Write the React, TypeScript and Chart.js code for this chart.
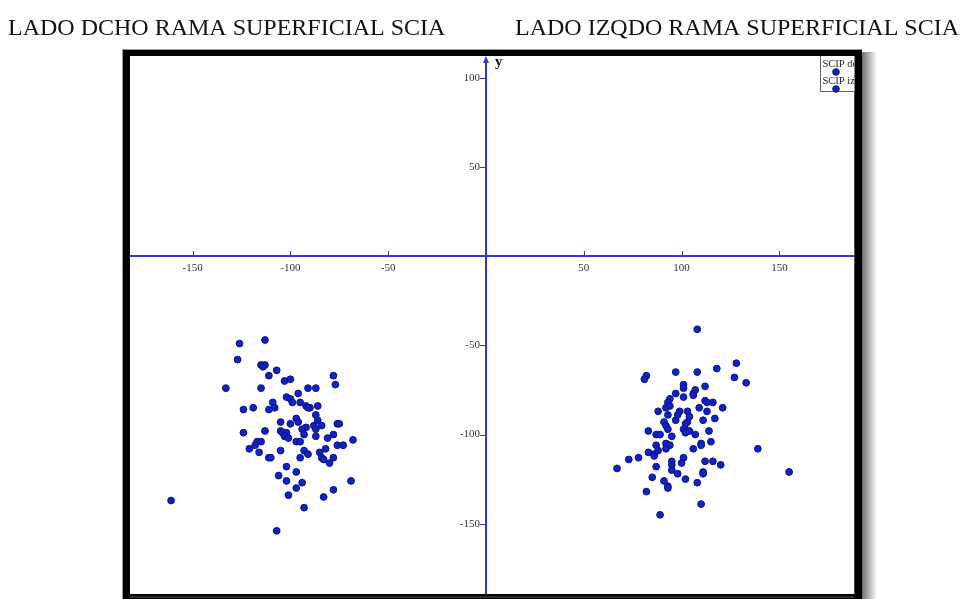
import React, { useEffect, useRef } from "react";
import { Chart, registerables } from "chart.js";

Chart.register(...registerables);

const titles = ["LADO DCHO RAMA SUPERFICIAL SCIA", "LADO IZQDO RAMA SUPERFICIAL SCIA"];
const seriesNames = ["SCIP dcho", "SCIP izqdo"];
const xTicks = [-150, -100, -50, 50, 100, 150];
const yTicks = [100, 50, -50, -100, -150];

const dchoX = [-126, -113, -127, -115, -113, -114, -107, -111, -78, -77, -103, -100, -133, -115, -91, -87, -96, -102, -100, -99, -95, -109, -108, -111, -119, -124, -92, -90, -91, -86, -87, -86, -97, -96, -105, -100, -92, -94, -88, -87, -84, -76, -75, -113, -124, -105, -104, -102, -103, -101, -93, -87, -81, -78, -68, -97, -95, -117, -115, -118, -121, -116, -105, -111, -110, -93, -91, -95, -85, -82, -76, -73, -84, -83, -78, -80, -102, -97, -106, -102, -94, -69, -97, -78, -101, -83, -93, -161, -107];
const dchoY = [-49, -47, -58, -61, -61, -62, -64, -67, -67, -72, -70, -69, -74, -74, -74, -74, -77, -79, -80, -82, -82, -82, -85, -86, -85, -86, -84, -85, -85, -84, -89, -92, -91, -93, -93, -94, -96, -97, -95, -97, -95, -94, -94, -98, -99, -98, -99, -99, -101, -102, -100, -101, -102, -100, -103, -104, -104, -104, -104, -106, -108, -110, -109, -113, -113, -109, -111, -113, -110, -108, -106, -106, -113, -114, -113, -116, -118, -121, -123, -126, -127, -126, -130, -131, -134, -135, -141, -137, -154];

const izqX = [108, 128, 118, 127, 133, 97, 108, 82, 81, 112, 101, 101, 107, 106, 97, 101, 94, 93, 106, 112, 113, 116, 121, 109, 92, 94, 88, 93, 113, 99, 103, 104, 98, 97, 117, 111, 103, 102, 91, 92, 93, 101, 103, 102, 104, 114, 107, 83, 87, 89, 95, 115, 110, 110, 87, 92, 94, 92, 106, 139, 83, 86, 86, 88, 78, 73, 67, 101, 95, 95, 95, 100, 112, 116, 120, 87, 98, 111, 111, 155, 85, 91, 102, 108, 93, 93, 82, 110, 89];
const izqY = [-41, -60, -63, -68, -71, -65, -65, -67, -69, -73, -72, -74, -75, -77, -77, -79, -80, -82, -78, -81, -82, -82, -85, -85, -85, -84, -87, -89, -87, -87, -87, -90, -89, -92, -91, -92, -93, -94, -93, -95, -97, -97, -98, -99, -98, -98, -100, -98, -100, -100, -101, -104, -105, -106, -106, -105, -106, -108, -108, -108, -110, -111, -112, -109, -113, -114, -119, -113, -115, -117, -120, -116, -115, -115, -117, -118, -122, -121, -122, -121, -124, -126, -125, -127, -129, -130, -132, -139, -145];

const toPoints = (xs: number[], ys: number[]) => xs.map((x, i) => ({ x, y: ys[i] }));

const FILL = "#1222c2";
const EDGE = "#0b148a";
const AXIS = "#3438c8";

const decorPlugin = {
  id: "decor",
  beforeDraw(chart: any) {
    const ctx = chart.ctx;
    const W = chart.width;
    const H = chart.height;
    const ca = chart.chartArea;
    ctx.save();
    ctx.fillStyle = "#ffffff";
    ctx.fillRect(0, 0, W, H);
    // titles
    ctx.fillStyle = "#111111";
    ctx.font = '24px "Liberation Serif", serif';
    ctx.textBaseline = "alphabetic";
    ctx.textAlign = "left";
    ctx.fillText(titles[0], 8, 35);
    ctx.fillText(titles[1], 515, 35);
    // shadow
    const g = ctx.createLinearGradient(861, 0, 877, 0);
    g.addColorStop(0, "rgba(0,0,0,0.6)");
    g.addColorStop(1, "rgba(0,0,0,0)");
    ctx.fillStyle = g;
    ctx.fillRect(861, 52, 16, H - 52);
    // frame
    ctx.fillStyle = "#000000";
    ctx.fillRect(123, 49, 739, H - 49);
    ctx.fillStyle = "#9a9a9a";
    ctx.fillRect(123, 49, 739, 1);
    ctx.fillRect(122, 49, 1, H - 49);
    ctx.fillStyle = "#ffffff";
    ctx.fillRect(ca.left, ca.top, ca.right - ca.left, ca.bottom - ca.top);
    ctx.fillStyle = "#555555";
    ctx.fillRect(ca.left, 596.5, ca.right - ca.left, 1);
    ctx.restore();
  },
  beforeDatasetsDraw(chart: any) {
    const ctx = chart.ctx;
    const ca = chart.chartArea;
    const xs = chart.scales.x;
    const ys = chart.scales.y;
    const X0 = Math.round(xs.getPixelForValue(0));
    const Y0 = Math.round(ys.getPixelForValue(0));
    ctx.save();
    ctx.strokeStyle = AXIS;
    ctx.lineWidth = 2;
    ctx.beginPath();
    ctx.moveTo(ca.left, Y0);
    ctx.lineTo(ca.right, Y0);
    ctx.moveTo(X0, ca.bottom);
    ctx.lineTo(X0, ca.top + 4);
    ctx.stroke();
    // arrow
    ctx.fillStyle = AXIS;
    ctx.beginPath();
    ctx.moveTo(X0, ca.top);
    ctx.lineTo(X0 - 3, ca.top + 7);
    ctx.lineTo(X0 + 3, ca.top + 7);
    ctx.closePath();
    ctx.fill();
    // ticks
    ctx.lineWidth = 1;
    ctx.beginPath();
    xTicks.forEach((v) => {
      const p = Math.round(xs.getPixelForValue(v)) + 0.5;
      ctx.moveTo(p, Y0 - 5);
      ctx.lineTo(p, Y0 + 1);
    });
    yTicks.forEach((v) => {
      const p = Math.round(ys.getPixelForValue(v)) + 0.5;
      ctx.moveTo(X0 - 6, p);
      ctx.lineTo(X0 + 1, p);
    });
    ctx.stroke();
    // labels
    ctx.fillStyle = "#333333";
    ctx.font = '11px "Liberation Serif", serif';
    ctx.textAlign = "center";
    ctx.textBaseline = "alphabetic";
    xTicks.forEach((v) => {
      ctx.fillText(String(v), xs.getPixelForValue(v), Y0 + 15);
    });
    ctx.textAlign = "right";
    ctx.textBaseline = "middle";
    yTicks.forEach((v) => {
      ctx.fillText(String(v), X0 - 6, ys.getPixelForValue(v));
    });
    ctx.fillStyle = "#111111";
    ctx.font = 'bold 15px "Liberation Serif", serif';
    ctx.textAlign = "left";
    ctx.textBaseline = "alphabetic";
    ctx.fillText("y", X0 + 9, ca.top + 10);
    ctx.restore();
  },
  afterDraw(chart: any) {
    const ctx = chart.ctx;
    const ca = chart.chartArea;
    ctx.save();
    ctx.beginPath();
    ctx.rect(ca.left, ca.top, ca.right - ca.left, ca.bottom - ca.top);
    ctx.clip();
    const bx = 820.5;
    const by = ca.top;
    ctx.fillStyle = "#ffffff";
    ctx.fillRect(bx, by, 40, 36);
    ctx.strokeStyle = "#666666";
    ctx.lineWidth = 1;
    ctx.strokeRect(bx, by - 1, 40, 36.5);
    ctx.font = '10.5px "Liberation Serif", serif';
    ctx.textAlign = "left";
    ctx.textBaseline = "alphabetic";
    seriesNames.forEach((name, i) => {
      const ty = by + 11 + i * 17;
      ctx.fillStyle = "#222222";
      ctx.fillText(name, 822.5, ty);
      ctx.beginPath();
      ctx.arc(836, ty + 5, 3.3, 0, Math.PI * 2);
      ctx.fillStyle = FILL;
      ctx.fill();
      ctx.strokeStyle = EDGE;
      ctx.stroke();
    });
    ctx.restore();
  },
};

export default function App() {
  const ref = useRef<HTMLCanvasElement | null>(null);
  useEffect(() => {
    if (!ref.current) return;
    const chart = new Chart(ref.current, {
      type: "scatter",
      data: {
        datasets: [
          {
            label: seriesNames[0],
            data: toPoints(dchoX, dchoY),
            backgroundColor: FILL,
            borderColor: EDGE,
            borderWidth: 1,
            pointRadius: 3.4,
          },
          {
            label: seriesNames[1],
            data: toPoints(izqX, izqY),
            backgroundColor: FILL,
            borderColor: EDGE,
            borderWidth: 1,
            pointRadius: 3.4,
          },
        ],
      },
      options: {
        responsive: false,
        animation: false,
        devicePixelRatio: 1,
        layout: { padding: { left: 130, top: 56, right: 963 - 854.3, bottom: 0 } },
        scales: {
          x: { type: "linear", min: -182, max: 188.3, display: false },
          y: { type: "linear", min: -189.4, max: 112.2, display: false },
        },
        plugins: {
          legend: { display: false },
          tooltip: { enabled: false },
          title: { display: false },
        },
      },
      plugins: [decorPlugin],
    });
    return () => chart.destroy();
  }, []);
  return (
    <div style={{ position: "absolute", left: 0, top: 0, width: 963, height: 599, overflow: "hidden" }}>
      <canvas ref={ref} width={963} height={599} style={{ display: "block", width: 963, height: 599 }} />
    </div>
  );
}
